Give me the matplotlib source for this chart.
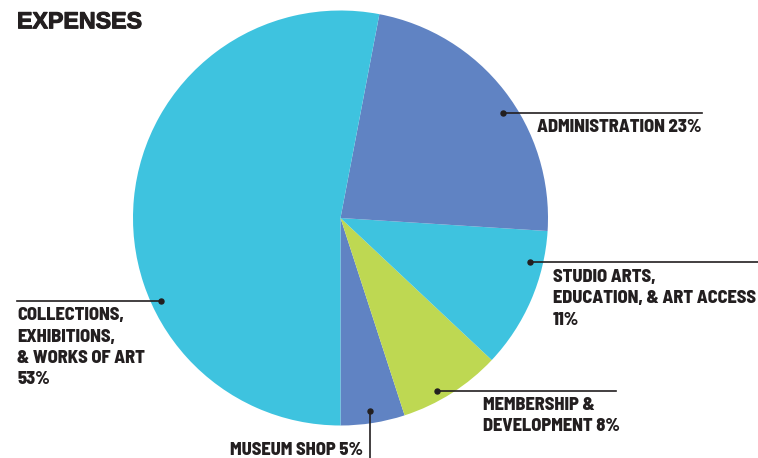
import matplotlib
matplotlib.use("Agg")
import matplotlib.pyplot as plt

# data (clockwise from the bottom: shop, membership, studio, admin, collections)
categories = ["MUSEUM SHOP", "MEMBERSHIP & DEVELOPMENT", "STUDIO ARTS, EDUCATION, & ART ACCESS",
              "ADMINISTRATION", "COLLECTIONS, EXHIBITIONS, & WORKS OF ART"]
shares = [5, 8, 11, 23, 53]
colors = ["#6083C3", "#BED852", "#3EC3DF", "#6083C3", "#3EC3DF"]

label_lines = [
    ["MUSEUM SHOP 5%"],
    ["MEMBERSHIP &", "DEVELOPMENT 8%"],
    ["STUDIO ARTS,", "EDUCATION, & ART ACCESS", "11%"],
    ["ADMINISTRATION 23%"],
    ["COLLECTIONS,", "EXHIBITIONS,", "& WORKS OF ART", "53%"],
]

W, H = 758, 458
ink = "#231F20"
narrow = ["Barlow Semi Condensed", "DejaVu Sans"]

fig = plt.figure(figsize=(W / 100, H / 100), dpi=100)
ax = fig.add_axes([0, 0, 1, 1])

cx, cy, r = 340.5, H - 218, 207.5
ax.pie(shares, colors=colors, startangle=270, counterclock=True,
       center=(cx, cy), radius=r, frame=True,
       wedgeprops=dict(linewidth=0))
ax.set_xlim(0, W)
ax.set_ylim(0, H)
ax.set_aspect("equal")
ax.axis("off")

# title, a touch heavier with a thin outline of the same ink
title = fig.text(17 / W, 1 - 28.3 / H, "EXPENSES", fontsize=16.7, fontweight="bold",
                 family=["Liberation Sans", "DejaVu Sans"], color=ink, va="baseline")
import matplotlib.patheffects as pe
title.set_path_effects([pe.withStroke(linewidth=0.8, foreground=ink)])


def y(p):
    return H - p


def put_lines(x, first_base, lines, ha="left", step=21.3):
    for i, s in enumerate(lines):
        ax.text(x, y(first_base + i * step), s, fontsize=13.2, fontweight=800,
                family=narrow, color=ink, ha=ha, va="baseline")


def dot(x, yy):
    ax.plot([x], [y(yy)], "o", color=ink, markersize=3.6, zorder=5)


# museum shop: vertical leader
dot(370, 411)
ax.plot([370, 370], [y(411), y(460)], color=ink, lw=1.2)
put_lines(363, 455, label_lines[0], ha="right")

# membership
dot(437, 391)
ax.plot([437, 616], [y(391), y(391)], color=ink, lw=1.2)
put_lines(483, 410, label_lines[1])

# studio
dot(530, 262)
ax.plot([530, 758], [y(262), y(262)], color=ink, lw=1.2)
put_lines(553, 282, label_lines[2])

# administration
dot(503, 113)
ax.plot([503, 702], [y(113), y(113)], color=ink, lw=1.2)
put_lines(537, 132, label_lines[3])

# collections
dot(161, 301)
ax.plot([17, 161], [y(301), y(301)], color=ink, lw=1.2)
put_lines(17, 320.5, label_lines[4])

fig.savefig("out.png", dpi=100)
